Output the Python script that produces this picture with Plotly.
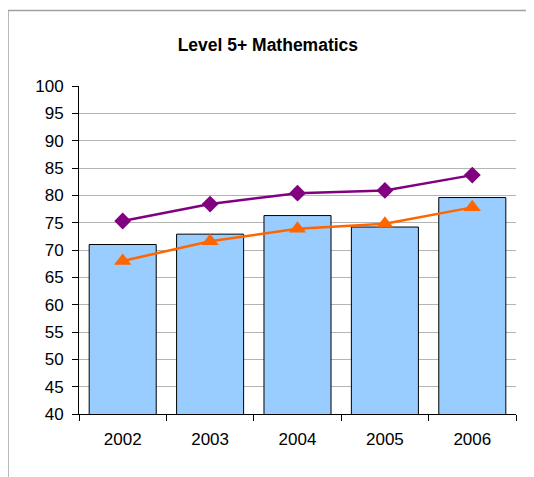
import plotly.graph_objects as go

years = ["2002", "2003", "2004", "2005", "2006"]
bar_values = [71.0, 72.9, 76.3, 74.2, 79.6]
purple_values = [75.3, 78.4, 80.4, 80.9, 83.7]
orange_values = [68.0, 71.6, 73.9, 74.8, 77.8]
y_ticks = [40, 45, 50, 55, 60, 65, 70, 75, 80, 85, 90, 95, 100]

fig = go.Figure()
fig.add_trace(go.Bar(
    x=years, y=bar_values,
    marker=dict(color="#99CCFF", line=dict(color="#000000", width=1)),
    showlegend=False,
))
fig.add_trace(go.Scatter(
    x=years, y=purple_values, mode="lines+markers",
    line=dict(color="#800080", width=2.5),
    marker=dict(symbol="diamond", size=13, color="#800080"),
    showlegend=False,
))
fig.add_trace(go.Scatter(
    x=years, y=orange_values, mode="lines+markers",
    line=dict(color="#FF6600", width=2.5),
    marker=dict(symbol="triangle-up", size=15, color="#FF6600"),
    showlegend=False,
))

fig.update_layout(
    width=526, height=469,
    margin=dict(l=71, r=18, t=78, b=63),
    paper_bgcolor="white", plot_bgcolor="white",
    bargap=0.233,
    font=dict(family="Liberation Sans, Arial, sans-serif", size=17, color="#000000"),
    title=dict(text="<b>Level 5+ Mathematics</b>", x=0.494, xref="container", xanchor="center",
               y=1 - 37/469, yanchor="middle", font=dict(size=17.5)),
    shapes=[
        dict(type="line", xref="paper", yref="paper", x0=-0.1625, x1=-0.1625, y0=-0.3, y1=1.230,
             line=dict(color="#a0a0a0", width=1.5)),
        dict(type="line", xref="paper", yref="paper", x0=-0.1625, x1=1.1, y0=1.230, y1=1.230,
             line=dict(color="#a0a0a0", width=1.5)),
    ],
)
fig.update_xaxes(
    type="category", showline=True, linecolor="#000000", linewidth=1,
    ticks="outside", tickson="boundaries", ticklen=6, tickcolor="#000000",
    showgrid=False, tickfont=dict(size=17), ticklabelstandoff=10,
)
fig.update_yaxes(
    range=[40, 100], tickvals=y_ticks, showline=True, linecolor="#000000", linewidth=1,
    ticks="outside", ticklen=6, tickcolor="#000000",
    showgrid=True, gridcolor="#b4b4b4", gridwidth=1, zeroline=False,
    tickfont=dict(size=17), ticklabelstandoff=5,
)

fig.write_html("out.html")
